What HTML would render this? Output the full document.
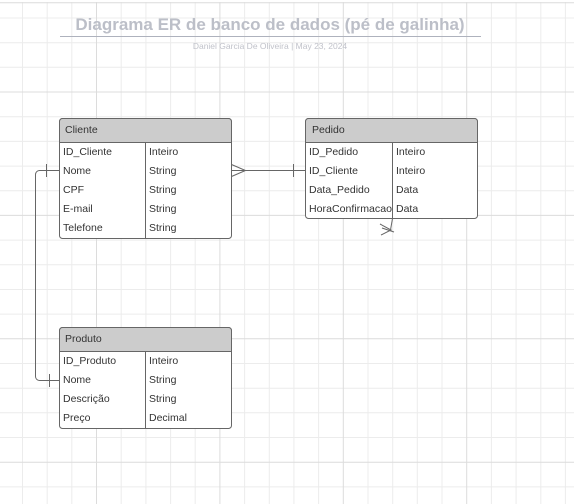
<!DOCTYPE html>
<html><head><meta charset="utf-8"><style>
html,body{margin:0;padding:0;background:#fff;}
svg{display:block;}
text{font-family:"Liberation Sans",sans-serif;}
</style></head><body>
<svg width="574" height="504" viewBox="0 0 574 504" xmlns="http://www.w3.org/2000/svg">
<path stroke="#ececec" stroke-width="1" fill="none" d="M22.5 0V504M47.2 0V504M71.8 0V504M121.2 0V504M145.9 0V504M170.6 0V504M195.2 0V504M244.6 0V504M269.3 0V504M293.9 0V504M318.6 0V504M368 0V504M392.7 0V504M417.3 0V504M442 0V504M491.4 0V504M516.1 0V504M540.8 0V504M565.4 0V504
M0 18H574M0 42.7H574M0 67.3H574M0 116.7H574M0 141.4H574M0 166.1H574M0 190.7H574M0 240.1H574M0 264.8H574M0 289.5H574M0 314.1H574M0 363.5H574M0 388.2H574M0 412.8H574M0 437.5H574M0 486.9H574"/>
<path stroke="#dcdcdc" stroke-width="1" fill="none" d="M96.5 0V504M219.9 0V504M343.3 0V504M466.7 0V504M0 92H574M0 215.4H574M0 338.8H574M0 462.2H574M0 2.7H574"/>
<rect x="0" y="0" width="574" height="2" fill="#fff"/>
<text x="270" y="30" text-anchor="middle" font-size="17" font-weight="bold" fill="#bcbfc8">Diagrama ER de banco de dados (pé de galinha)</text>
<line x1="60" y1="36.5" x2="481" y2="36.5" stroke="#aeb2bd" stroke-width="1"/>
<text x="270" y="49" text-anchor="middle" font-size="8.5" fill="#c0c2ca">Daniel Garcia De Oliveira  |  May 23, 2024</text>

<g stroke="#666" fill="none" stroke-width="1">
<rect x="59.5" y="118.5" width="172" height="120" rx="3" fill="#fff"/>
<path d="M59.5 142.5 V121.5 a3 3 0 0 1 3 -3 H228.5 a3 3 0 0 1 3 3 V142.5 Z" fill="#cccccc"/>
<line x1="145.5" y1="142.5" x2="145.5" y2="238.5"/>
<rect x="305.5" y="118.5" width="172" height="100" rx="3" fill="#fff"/>
<path d="M305.5 142.5 V121.5 a3 3 0 0 1 3 -3 H474.5 a3 3 0 0 1 3 3 V142.5 Z" fill="#cccccc"/>
<line x1="392.5" y1="142.5" x2="392.5" y2="218.5"/>
<rect x="59.5" y="327.5" width="172" height="101" rx="3" fill="#fff"/>
<path d="M59.5 351.5 V330.5 a3 3 0 0 1 3 -3 H228.5 a3 3 0 0 1 3 3 V351.5 Z" fill="#cccccc"/>
<line x1="145.5" y1="351.5" x2="145.5" y2="428.5"/>

<line x1="231.5" y1="170.5" x2="305.5" y2="170.5"/>
<path d="M231.5 164.5 L245.5 170.5 L231.5 176.5"/>
<line x1="293.5" y1="164" x2="293.5" y2="177"/>
<path d="M59.5 170.5 H39.5 a4 4 0 0 0 -4 4 V376.5 a4 4 0 0 0 4 4 H59.5"/>
<line x1="46.5" y1="164" x2="46.5" y2="177"/>
<line x1="49.5" y1="374" x2="49.5" y2="387"/>
<path d="M392.5 218.5 L390.5 230"/>
<path d="M380 224 L391 230 L381 235"/>
<path d="M382 228 L394 232"/>
</g>

<g font-size="10.5" fill="#333">
<text x="65" y="133">Cliente</text>
<text x="63" y="155">ID_Cliente</text><text x="149" y="155">Inteiro</text>
<text x="63" y="174">Nome</text><text x="149" y="174">String</text>
<text x="63" y="193">CPF</text><text x="149" y="193">String</text>
<text x="63" y="212">E-mail</text><text x="149" y="212">String</text>
<text x="63" y="231">Telefone</text><text x="149" y="231">String</text>

<text x="312" y="133">Pedido</text>
<text x="309" y="155">ID_Pedido</text><text x="396" y="155">Inteiro</text>
<text x="309" y="174">ID_Cliente</text><text x="396" y="174">Inteiro</text>
<text x="309" y="193">Data_Pedido</text><text x="396" y="193">Data</text>
<text x="309" y="212" textLength="83" lengthAdjust="spacingAndGlyphs">HoraConfirmacao</text><text x="396" y="212">Data</text>

<text x="65" y="342">Produto</text>
<text x="63" y="364">ID_Produto</text><text x="149" y="364">Inteiro</text>
<text x="63" y="383">Nome</text><text x="149" y="383">String</text>
<text x="63" y="402">Descrição</text><text x="149" y="402">String</text>
<text x="63" y="421">Preço</text><text x="149" y="421">Decimal</text>
</g>
</svg>
</body></html>
